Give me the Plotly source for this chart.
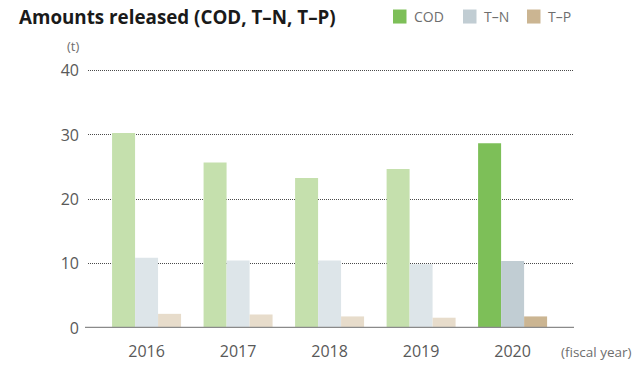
import plotly.graph_objects as go

# Amounts released per fiscal year (t)
years = ["2016", "2017", "2018", "2019", "2020"]
cod = [30.3, 25.7, 23.3, 24.7, 28.7]
tn = [10.9, 10.5, 10.5, 9.9, 10.4]
tp = [2.2, 2.1, 1.8, 1.6, 1.8]

series = ["COD", "T–N", "T–P"]
values = [cod, tn, tp]
past_colors = ["#c5e0ad", "#dde5e9", "#e7dccb"]
latest_colors = ["#7dbf58", "#c1cdd3", "#cbb592"]

W, H = 636, 367
L, R, T, B = 88, 63, 68.4, 39
PW, PH = W - L - R, H - T - B


def px_x(px):
    return (px - L) / PW


def px_y(py):
    return (H - B - py) / PH


fig = go.Figure()
for name, vals, c_past, c_last in zip(series, values, past_colors, latest_colors):
    # earlier years in pale tone, latest year in full tone, sharing one slot
    fig.add_trace(go.Bar(x=years[:-1], y=vals[:-1], name=name, offsetgroup=name,
                         marker=dict(color=c_past, line=dict(width=0)),
                         showlegend=False, hoverinfo="x+y"))
    fig.add_trace(go.Bar(x=years[-1:], y=vals[-1:], name=name, offsetgroup=name,
                         marker=dict(color=c_last, line=dict(width=0)),
                         showlegend=False, hoverinfo="x+y"))

font = "Open Sans, Noto Sans, sans-serif"
shapes = []
annotations = []

# baseline at zero
shapes.append(dict(type="line", xref="paper", yref="y", x0=px_x(85), x1=px_x(574),
                   y0=0, y1=0, line=dict(color="#8a8a8a", width=2.5), layer="above"))

# legend keys
legend_pos = [393, 463, 527]
for name, c, x0 in zip(series, latest_colors, legend_pos):
    shapes.append(dict(type="rect", xref="paper", yref="paper",
                       x0=px_x(x0), x1=px_x(x0 + 13.5), y0=px_y(24), y1=px_y(10),
                       fillcolor=c, line=dict(width=0)))
    annotations.append(dict(text=name, xref="paper", yref="paper", x=px_x(x0 + 19),
                            y=px_y(17), xanchor="left", yanchor="middle", showarrow=False,
                            font=dict(family=font, size=14, color="#6e6e6e")))

annotations.append(dict(text="<b>Amounts released (COD, T–N, T–P)</b>", xref="paper",
                        yref="paper", x=px_x(17), y=px_y(17), xanchor="left",
                        yanchor="middle", showarrow=False,
                        font=dict(family=font, size=18.8, color="#1a1a1a")))
annotations.append(dict(text="(t)", xref="paper", yref="paper", x=px_x(73), y=px_y(46),
                        xanchor="center", yanchor="middle", showarrow=False,
                        font=dict(family=font, size=13, color="#6e6e6e")))
annotations.append(dict(text="(fiscal year)", xref="paper", yref="paper", x=px_x(559),
                        y=px_y(352), xanchor="left", yanchor="middle", showarrow=False,
                        font=dict(family=font, size=13.5, color="#6e6e6e")))

fig.update_layout(
    width=W, height=H,
    margin=dict(l=L, r=R, t=T, b=B, pad=0, autoexpand=False),
    paper_bgcolor="white", plot_bgcolor="white",
    barmode="group", bargap=0.246, bargroupgap=0,
    showlegend=False,
    shapes=shapes, annotations=annotations,
    font=dict(family=font),
)
fig.update_xaxes(type="category", categoryorder="array", categoryarray=years,
                 range=[-0.64, 4.66], showgrid=False, zeroline=False, showline=False,
                 ticks="", ticklabelstandoff=12, automargin=False,
                 tickfont=dict(family=font, size=16, color="#595959"))
fig.update_yaxes(range=[0, 40.4], tickvals=[0, 10, 20, 30, 40], showgrid=True,
                 gridcolor="#4a4a4a", griddash="1px,1px", gridwidth=1,
                 zeroline=False, showline=False, ticks="", ticklabelstandoff=8,
                 automargin=False,
                 tickfont=dict(family=font, size=16, color="#595959"))

fig.write_html("out.html")
